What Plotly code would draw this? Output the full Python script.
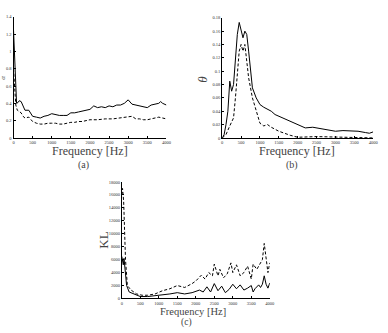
import plotly.graph_objects as go

# Panel (a)
fa_solid = [0, 30, 60, 80, 120, 150, 200, 250, 300, 400, 450, 500, 600, 700, 800, 900, 1000, 1100, 1200, 1300, 1400, 1500, 1600, 1700, 1800, 1900, 2000, 2100, 2200, 2300, 2400, 2500, 2600, 2700, 2800, 2900, 3000, 3100, 3200, 3300, 3400, 3500, 3600, 3700, 3800, 3850, 3900, 4000]
a_solid = [1.25, 0.9, 0.55, 0.40, 0.41, 0.43, 0.42, 0.36, 0.32, 0.32, 0.28, 0.25, 0.24, 0.23, 0.25, 0.26, 0.28, 0.27, 0.26, 0.26, 0.26, 0.29, 0.29, 0.30, 0.31, 0.32, 0.33, 0.37, 0.35, 0.36, 0.35, 0.37, 0.36, 0.38, 0.38, 0.40, 0.44, 0.39, 0.38, 0.37, 0.36, 0.35, 0.38, 0.39, 0.40, 0.42, 0.40, 0.38]
fa_dash = [0, 30, 60, 100, 150, 200, 250, 300, 400, 500, 600, 700, 800, 900, 1000, 1100, 1200, 1300, 1400, 1500, 1600, 1700, 1800, 1900, 2000, 2200, 2400, 2600, 2800, 3000, 3100, 3200, 3300, 3400, 3500, 3600, 3700, 3800, 3900, 4000]
a_dash = [0.80, 0.55, 0.38, 0.32, 0.30, 0.29, 0.25, 0.23, 0.24, 0.19, 0.17, 0.16, 0.16, 0.17, 0.17, 0.17, 0.16, 0.16, 0.17, 0.18, 0.18, 0.19, 0.19, 0.20, 0.21, 0.21, 0.22, 0.22, 0.23, 0.24, 0.25, 0.22, 0.22, 0.21, 0.21, 0.22, 0.23, 0.24, 0.23, 0.22]

# Panel (b)
fb_solid = [0, 50, 100, 150, 200, 250, 300, 350, 400, 450, 500, 550, 600, 650, 700, 750, 800, 900, 1000, 1100, 1200, 1300, 1400, 1600, 1800, 2000, 2200, 2400, 2600, 2800, 3000, 3200, 3400, 3600, 3800, 3900, 4000]
b_solid = [0.0, 0.005, 0.02, 0.04, 0.085, 0.07, 0.08, 0.12, 0.155, 0.173, 0.16, 0.15, 0.16, 0.155, 0.13, 0.10, 0.075, 0.06, 0.05, 0.046, 0.043, 0.040, 0.035, 0.030, 0.025, 0.020, 0.015, 0.016, 0.014, 0.011, 0.010, 0.011, 0.011, 0.010, 0.008, 0.007, 0.009]
fb_dash = [0, 100, 200, 300, 350, 400, 450, 500, 550, 600, 650, 700, 800, 900, 1000, 1100, 1200, 1300, 1500, 1800, 2000, 2500, 3000, 3500, 4000]
b_dash = [0.0, 0.005, 0.018, 0.03, 0.06, 0.10, 0.13, 0.14, 0.13, 0.14, 0.11, 0.09, 0.06, 0.04, 0.022, 0.018, 0.02, 0.016, 0.01, 0.004, 0.001, 0.002, 0.001, 0.0005, 0.0]

# Panel (c)
fc_solid = [0, 20, 40, 60, 80, 100, 130, 200, 300, 400, 500, 700, 900, 1000, 1200, 1300, 1500, 1700, 1900, 2000, 2100, 2200, 2300, 2400, 2500, 2600, 2700, 2800, 2900, 3000, 3100, 3200, 3300, 3400, 3500, 3550, 3600, 3700, 3750, 3800, 3850, 3900, 3950, 4000]
c_solid = [6500, 5500, 5200, 6200, 5000, 3000, 2000, 1000, 800, 500, 300, 300, 400, 500, 600, 700, 900, 700, 900, 1100, 1300, 1000, 1800, 1000, 2300, 1200, 1900, 900, 1400, 2200, 1500, 2100, 1300, 1600, 2000, 1000, 1500, 2100, 1700, 2200, 3500, 2200, 1600, 2400]
fc_dash = [0, 20, 50, 80, 100, 150, 250, 400, 550, 700, 900, 1100, 1300, 1500, 1700, 1900, 2000, 2150, 2250, 2350, 2450, 2500, 2600, 2650, 2750, 2850, 2950, 3000, 3100, 3200, 3300, 3400, 3500, 3550, 3650, 3750, 3800, 3850, 3900, 3950, 4000]
c_dash = [16000, 17000, 15000, 9000, 6000, 2000, 1300, 700, 500, 500, 700, 1200, 1500, 2000, 1700, 2300, 2700, 3600, 3000, 4000, 3500, 5300, 3500, 4500, 3200, 3800, 5500, 4000, 5200, 3500, 4000, 5000, 3000, 5300, 4500, 5500, 6000, 8500, 6500, 4000, 5500]

x_ticks = [0, 500, 1000, 1500, 2000, 2500, 3000, 3500, 4000]
ya_ticks = [0, 0.2, 0.4, 0.6, 0.8, 1, 1.2, 1.4]
yb_ticks = [0, 0.02, 0.04, 0.06, 0.08, 0.1, 0.12, 0.14, 0.16, 0.18]
yc_ticks = [0, 2000, 4000, 6000, 8000, 10000, 12000, 14000, 16000, 18000]

W, H = 388, 333
def px(x): return x / W
def py(y): return 1 - y / H

SERIF = "Liberation Serif, Times New Roman, DejaVu Serif, serif"

fig = go.Figure()
line_s = dict(color="black", width=1)
line_d = dict(color="black", width=1, dash="3px,2px")

fig.add_trace(go.Scatter(x=fa_solid, y=a_solid, mode="lines", line=line_s, xaxis="x", yaxis="y"))
fig.add_trace(go.Scatter(x=fa_dash, y=a_dash, mode="lines", line=line_d, xaxis="x", yaxis="y"))
fig.add_trace(go.Scatter(x=fb_solid, y=b_solid, mode="lines", line=line_s, xaxis="x2", yaxis="y2"))
fig.add_trace(go.Scatter(x=fb_dash, y=b_dash, mode="lines", line=line_d, xaxis="x2", yaxis="y2"))
fig.add_trace(go.Scatter(x=fc_solid, y=c_solid, mode="lines", line=line_s, xaxis="x3", yaxis="y3"))
fig.add_trace(go.Scatter(x=fc_dash, y=c_dash, mode="lines", line=line_d, xaxis="x3", yaxis="y3"))

tickfont = dict(family=SERIF, size=4.5, color="#333")
common = dict(showline=True, linecolor="black", linewidth=1, ticks="inside", ticklen=2,
              tickcolor="black", showgrid=False, zeroline=False, tickfont=tickfont)
xt = dict(range=[0, 4000], tickvals=x_ticks, ticktext=[str(v) for v in x_ticks], **common)

def lbl(v):
    return ("%g" % v)

fig.update_layout(
    width=W, height=H, margin=dict(l=0, r=0, t=0, b=0),
    paper_bgcolor="white", plot_bgcolor="white", showlegend=False,
    font=dict(family=SERIF),
    xaxis=dict(domain=[px(12.7), px(168)], anchor="y", **xt),
    yaxis=dict(domain=[py(138), py(15)], anchor="x", range=[0, 1.4],
               tickvals=ya_ticks, ticktext=[lbl(v) for v in ya_ticks], **common),
    xaxis2=dict(domain=[px(224.7), px(378)], anchor="y2", **xt),
    yaxis2=dict(domain=[py(138), py(16)], anchor="x2", range=[0, 0.18],
                tickvals=yb_ticks, ticktext=[lbl(v) for v in yb_ticks], **common),
    xaxis3=dict(domain=[px(122.7), px(273)], anchor="y3", **xt),
    yaxis3=dict(domain=[py(301), py(182.7)], anchor="x3", range=[0, 18000],
                tickvals=yc_ticks, ticktext=[str(v) for v in yc_ticks], **common),
)

def ann(text, x, y, size=12, angle=0):
    fig.add_annotation(text=text, x=px(x), y=py(y), xref="paper", yref="paper",
                       showarrow=False, xanchor="center", yanchor="middle",
                       font=dict(family=SERIF, size=size, color="#444"),
                       textangle=angle, borderpad=0)

ann("Frequency [Hz]", 90, 151.5)
ann("(a)", 84, 165, 10)
ann("Frequency [Hz]", 301, 151.5)
ann("(b)", 296, 165, 10)
ann("Frequency [Hz]", 195, 314.5, 10.5)
ann("(c)", 188, 325.5, 9.5)
ann("<i>θ</i>", 205, 78, 13, -90)
ann("KL", 104, 242, 13, -90)
ann("<i>α</i>", 2, 77, 7, -90)

fig.write_html("out.html")
